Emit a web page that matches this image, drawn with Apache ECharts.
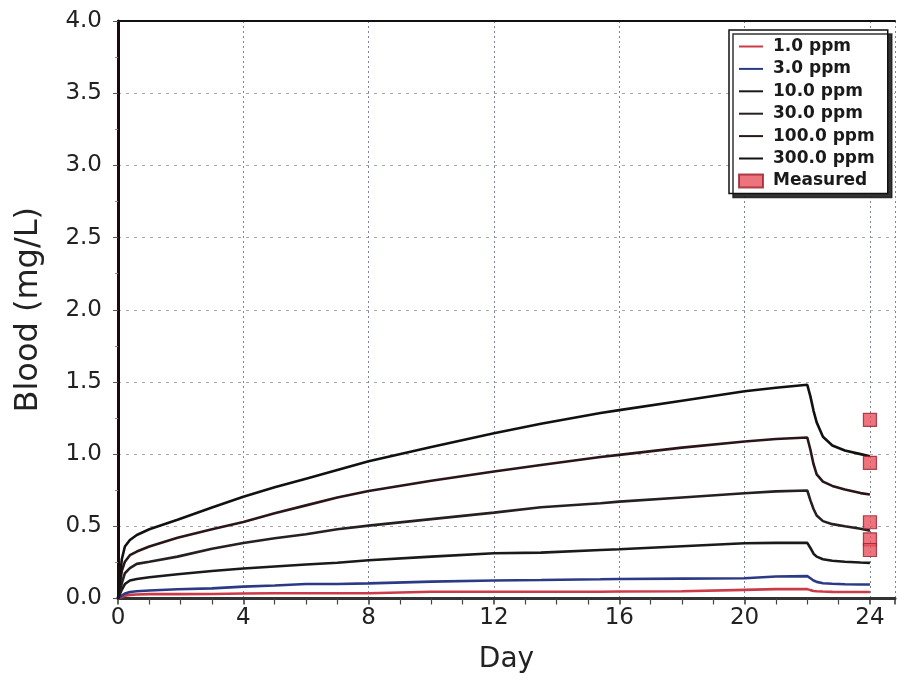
<!DOCTYPE html>
<html>
<head>
<meta charset="utf-8">
<script src="https://cdn.jsdelivr.net/npm/echarts@6/dist/echarts.min.js"></script>
<style>html,body{margin:0;padding:0;background:#fff}#c{width:898px;height:684px}</style>
</head>
<body>
<div id="c"></div>
<script>
const seriesNames = ['1.0 ppm', '3.0 ppm', '10.0 ppm', '30.0 ppm', '100.0 ppm', '300.0 ppm'];
const days = [0, 0.12, 0.22, 0.38, 0.6, 1, 1.9, 3, 4, 5, 6, 7, 8, 10, 12, 13.5, 15.4, 16, 18, 20, 21, 22, 22.1, 22.2, 22.3, 22.5, 22.8, 23.2, 23.7, 24];
const ppm1   = [0, 0.01, 0.02, 0.025, 0.028, 0.03, 0.03, 0.031, 0.035, 0.036, 0.036, 0.036, 0.036, 0.047, 0.047, 0.047, 0.047, 0.048, 0.05, 0.06, 0.065, 0.065, 0.058, 0.052, 0.05, 0.048, 0.046, 0.045, 0.045, 0.045];
const ppm3   = [0, 0.02, 0.035, 0.045, 0.05, 0.055, 0.064, 0.07, 0.082, 0.09, 0.1, 0.1, 0.105, 0.117, 0.125, 0.128, 0.133, 0.135, 0.138, 0.14, 0.152, 0.155, 0.14, 0.125, 0.115, 0.106, 0.102, 0.099, 0.097, 0.097];
const ppm10  = [0, 0.06, 0.10, 0.125, 0.135, 0.147, 0.168, 0.19, 0.208, 0.222, 0.235, 0.248, 0.265, 0.29, 0.313, 0.318, 0.336, 0.341, 0.362, 0.383, 0.385, 0.385, 0.35, 0.31, 0.29, 0.272, 0.262, 0.255, 0.249, 0.247];
const ppm30  = [0, 0.105, 0.175, 0.21, 0.24, 0.255, 0.29, 0.345, 0.385, 0.417, 0.445, 0.48, 0.505, 0.55, 0.595, 0.632, 0.66, 0.671, 0.70, 0.729, 0.742, 0.748, 0.68, 0.62, 0.575, 0.536, 0.515, 0.50, 0.483, 0.47];
const ppm100 = [0, 0.19, 0.255, 0.30, 0.325, 0.36, 0.42, 0.48, 0.53, 0.59, 0.645, 0.70, 0.745, 0.815, 0.88, 0.925, 0.98, 0.995, 1.045, 1.087, 1.105, 1.115, 1.03, 0.93, 0.86, 0.81, 0.78, 0.755, 0.73, 0.72];
const ppm300 = [0, 0.27, 0.36, 0.405, 0.44, 0.48, 0.545, 0.63, 0.705, 0.77, 0.83, 0.89, 0.95, 1.05, 1.145, 1.21, 1.285, 1.305, 1.37, 1.435, 1.46, 1.48, 1.40, 1.30, 1.22, 1.12, 1.06, 1.025, 1.0, 0.985];
const measuredDays = [24, 24, 24, 24, 24];
const measuredValues = [1.237, 0.94, 0.528, 0.41, 0.336];
const xTicks = [0, 4, 8, 12, 16, 20, 24];

const allValues = [ppm1, ppm3, ppm10, ppm30, ppm100, ppm300];
const lineColors = ['#cc3a48', '#2c3a86', '#1a1a1a', '#262020', '#2a1618', '#111111'];

const chart = echarts.init(document.getElementById('c'), null, {renderer: 'canvas'});
const font = 'DejaVu Sans';

const lineSeries = seriesNames.map((n, i) => ({
  name: n,
  type: 'line',
  data: days.map((d, j) => [d, allValues[i][j]]),
  showSymbol: false,
  symbol: 'none',
  lineStyle: {color: lineColors[i], width: 2.6},
  itemStyle: {color: lineColors[i]},
  z: 3,
  silent: true,
  animation: false
}));

const legendLineIcon = 'path://M0,0 L48,0 L48,4 L0,4 Z';

const option = {
  animation: false,
  backgroundColor: '#fff',
  grid: {left: 118, right: 3, top: 21, bottom: 85.5, containLabel: false},
  legend: {
    orient: 'vertical',
    left: 729,
    top: 30,
    data: seriesNames.map((n, i) => ({name: n, icon: legendLineIcon, itemStyle: {color: lineColors[i]}}))
      .concat([{name: 'Measured', icon: 'rect'}]),
    itemWidth: 24,
    itemHeight: 13,
    itemGap: 5.4,
    padding: [8, 13, 4, 9],
    backgroundColor: '#fff',
    borderColor: '#111',
    borderWidth: 1.5,
    shadowColor: 'rgba(30,30,30,0.9)',
    shadowBlur: 0,
    shadowOffsetX: 4,
    shadowOffsetY: 4,
    textStyle: {fontFamily: font, fontSize: 17, fontWeight: 'bold', color: '#1a1a1a', padding: [0, 0, 0, 5]}
  },
  xAxis: [{
    type: 'value',
    min: 0,
    max: 24.8,
    interval: 4,
    name: 'Day',
    nameLocation: 'middle',
    nameGap: 47,
    nameTextStyle: {fontFamily: font, fontSize: 28, color: '#222'},
    axisLine: {show: true, onZero: false, lineStyle: {color: '#333', width: 3}},
    axisTick: {show: true, length: 6, lineStyle: {color: '#333', width: 1.5}},
    minorTick: {show: true, splitNumber: 4, length: 6, lineStyle: {color: '#444', width: 1.2}},
    axisLabel: {fontFamily: font, fontSize: 23, color: '#222', margin: 8, showMaxLabel: false,
      formatter: v => xTicks.indexOf(v) >= 0 ? String(v) : ''},
    splitLine: {show: true, lineStyle: {color: '#7d84a0', type: [2, 3], width: 1}}
  }, {
    type: 'value',
    position: 'top',
    min: 0,
    max: 24.8,
    interval: 4,
    axisLine: {show: true, onZero: false, lineStyle: {color: '#111', width: 2}},
    axisTick: {show: false},
    axisLabel: {show: false},
    splitLine: {show: false}
  }],
  yAxis: {
    type: 'value',
    min: 0,
    max: 4,
    interval: 0.5,
    name: 'Blood (mg/L)',
    nameLocation: 'middle',
    nameGap: 73,
    nameTextStyle: {fontFamily: font, fontSize: 32, color: '#222'},
    axisLine: {show: true, lineStyle: {color: '#1a0a10', width: 3}},
    axisTick: {show: true, length: 5, lineStyle: {color: '#555', width: 1}},
    minorTick: {show: true, splitNumber: 2, length: 3, lineStyle: {color: '#888', width: 1}},
    axisLabel: {fontFamily: font, fontSize: 23, color: '#222', margin: 16, formatter: v => v.toFixed(1)},
    splitLine: {show: true, lineStyle: {color: '#a8a8ae', type: [3, 5], width: 1}}
  },
  series: lineSeries.concat([{
    name: 'Measured',
    type: 'scatter',
    data: measuredDays.map((d, i) => [d, measuredValues[i]]),
    symbol: 'rect',
    symbolSize: [13, 13],
    itemStyle: {color: '#e8505c', borderColor: '#9a1e2c', borderWidth: 1.2},
    z: 5,
    silent: true
  }])
};
chart.setOption(option);
</script>
</body>
</html>
